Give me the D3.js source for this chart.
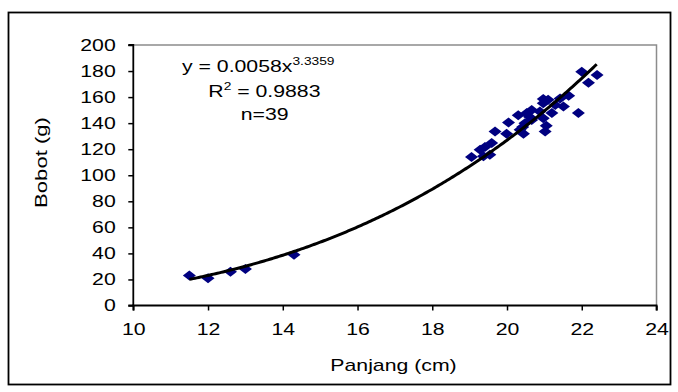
<!DOCTYPE html>
<html>
<head>
<meta charset="utf-8">
<script src="https://cdn.jsdelivr.net/npm/d3@7"></script>
<style>
  html, body { margin: 0; padding: 0; background: #fff; }
  svg { display: block; font-family: "Liberation Sans", Arial, sans-serif; }
</style>
</head>
<body>
<svg id="chart" width="678" height="392"></svg>
<script>
// ---- Data ----
const panjang = [11.5, 12.0, 12.6, 13.0, 14.3,
  19.05, 19.28, 19.37, 19.41, 19.54, 19.59, 19.68, 19.99, 20.04, 20.30,
  20.35, 20.44, 20.48, 20.42, 20.53, 20.66, 20.66, 20.88, 20.97, 20.97,
  21.02, 21.05, 21.10, 21.20, 21.29, 21.42, 21.51, 21.65, 21.91, 22.00,
  22.18, 22.41, 20.97, 20.60];
const bobot = [23, 21, 26, 28, 39,
  114, 119.5, 114.5, 121.6, 115.7, 124.7, 133.6, 131.8, 140.5, 146,
  135, 131.8, 140, 137, 147.7, 142.5, 150, 148.9, 143.8, 155.3,
  133.6, 138, 157.9, 147.7, 154, 159, 152.7, 161, 147.7, 179.5,
  171, 177, 158.6, 145];
const xTicks = [10, 12, 14, 16, 18, 20, 22, 24];
const yTicks = [0, 20, 40, 60, 80, 100, 120, 140, 160, 180, 200];
const trendCoef = 0.0058;
const trendExp = 3.3359;
const trendRange = [11.5, 22.4];
const eqLines = ["R", "n=39"];

// ---- Layout ----
const svg = d3.select("#chart");
const SX = 1.25;
const x = d3.scaleLinear().domain([10, 24]).range([133.3, 656.5]);
const y = d3.scaleLinear().domain([0, 200]).range([305.5, 45]);

// outer chart border
svg.append("rect").attr("x", 8.5).attr("y", 12.5).attr("width", 662).attr("height", 372)
  .attr("fill", "#fff").attr("stroke", "#000").attr("stroke-width", 1.8);

// plot area border (gray top/right)
svg.append("path")
  .attr("d", `M${x(10)},${y(200)}H${x(24)}V${y(0)}`)
  .attr("fill", "none").attr("stroke", "#8c8c8c").attr("stroke-width", 1.5);

// axes
const yAxis = d3.axisLeft(y).tickValues(yTicks).tickSize(5).tickPadding(12.6).tickFormat(d3.format("d"));
const xAxis = d3.axisBottom(x).tickValues(xTicks).tickSize(5).tickPadding(12.5).tickFormat(d3.format("d"));

const gy = svg.append("g").attr("transform", `translate(${x(10)},0)`).call(yAxis);
const gx = svg.append("g").attr("transform", `translate(0,${y(0)})`).call(xAxis);

[gx, gy].forEach(g => {
  g.select(".domain").attr("stroke", "#000").attr("stroke-width", 1.8);
  g.selectAll(".tick line").attr("stroke", "#000").attr("stroke-width", 1.5);
  g.selectAll(".tick text").attr("font-size", 17).attr("fill", "#000")
    .attr("font-family", "Liberation Sans, Arial, sans-serif");
});
gx.select(".domain").attr("d", `M${x(10)},5V0H${x(24)}V5`);
gy.select(".domain").attr("d", `M-5,${y(200)}H0V${y(0)}H-5`);
gy.selectAll(".tick text").each(function() {
  const t = d3.select(this);
  t.attr("x", +t.attr("x") / SX).attr("transform", `scale(${SX},1)`);
});
gx.selectAll(".tick text").attr("transform", `scale(${SX},1)`);

// axis titles
svg.append("text").attr("transform", `translate(393.5,370.5) scale(${SX},1)`)
  .attr("text-anchor", "middle").attr("font-size", 17).text("Panjang (cm)");
svg.append("text").attr("transform", `translate(46.7,162.5) rotate(-90) scale(1.3,1)`)
  .attr("text-anchor", "middle").attr("font-size", 17).text("Bobot (g)");

// trendline
const tx = d3.range(trendRange[0], trendRange[1] + 0.0001, 0.05);
const line = d3.line().x(d => x(d)).y(d => y(trendCoef * Math.pow(d, trendExp)));

// points
const sym = d3.symbol().type(d3.symbolSquare).size(50);
svg.append("g").selectAll("path").data(panjang.map((p, i) => [p, bobot[i]])).join("path")
  .attr("d", sym)
  .attr("transform", d => `translate(${x(d[0])},${y(d[1])}) scale(1.3,1) rotate(45)`)
  .attr("fill", "#000080");

svg.append("path").datum(tx).attr("d", line)
  .attr("fill", "none").attr("stroke", "#000").attr("stroke-width", 3);

// equation text
const eq1 = svg.append("text").attr("transform", `translate(182,71.7) scale(${SX},1)`)
  .attr("font-size", 17);
eq1.append("tspan").text("y = " + trendCoef + "x");
eq1.append("tspan").attr("font-size", 11).attr("dy", -7).text(trendExp);

const eq2 = svg.append("text").attr("transform", `translate(208.3,96.7) scale(${SX},1)`)
  .attr("font-size", 17);
eq2.append("tspan").text(eqLines[0]);
eq2.append("tspan").attr("font-size", 11).attr("dy", -7).text("2");
eq2.append("tspan").attr("dy", 7).text(" = 0.9883");

svg.append("text").attr("transform", `translate(240.7,120) scale(${SX},1)`)
  .attr("font-size", 17).text(eqLines[1]);
</script>
</body>
</html>
